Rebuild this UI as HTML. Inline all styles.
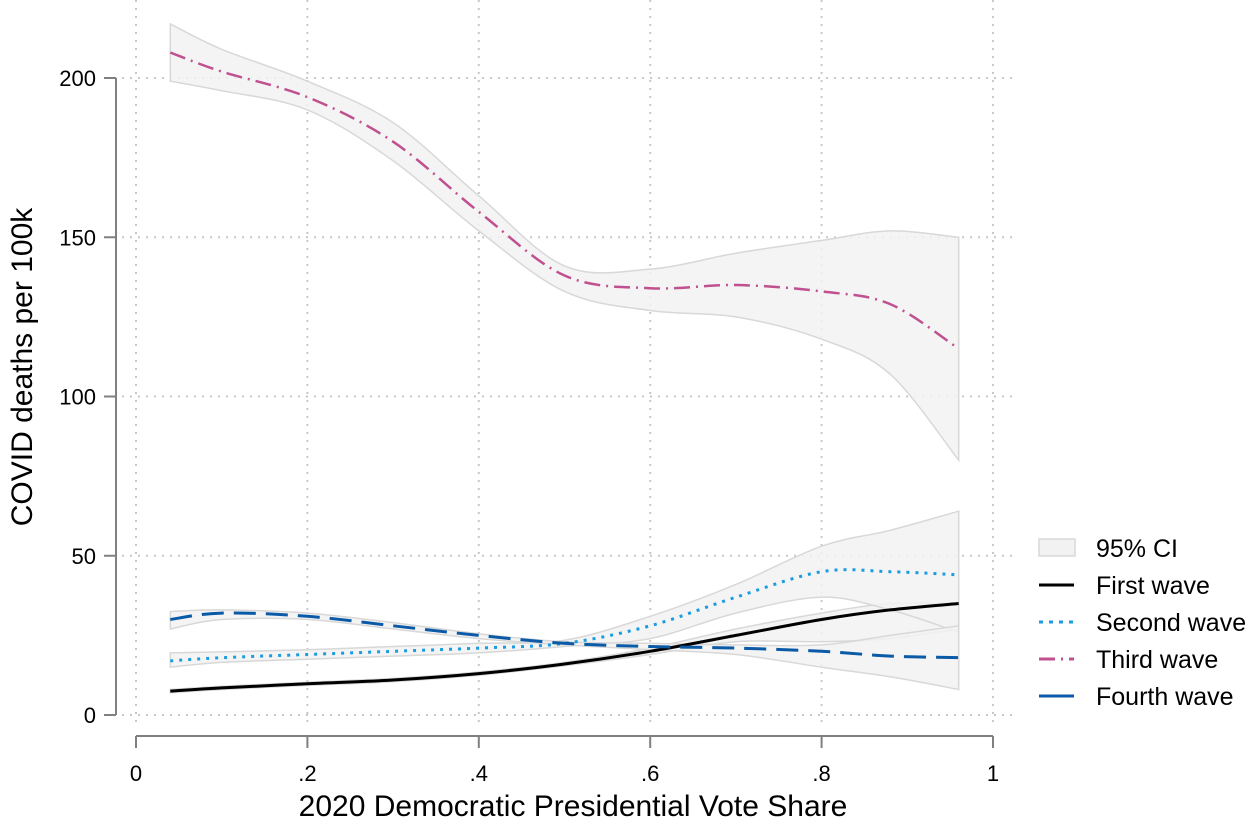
<!DOCTYPE html>
<html><head><meta charset="utf-8"><style>
body{margin:0;background:#fff;}
svg text{font-family:"Liberation Sans",Arial,sans-serif;fill:#000;}
</style></head><body>
<svg id="chart" width="1250" height="822" viewBox="0 0 1250 822" xmlns="http://www.w3.org/2000/svg">
<g id="grid"></g>
<g id="bands"></g>
<g id="lines"></g>
<g id="axes"></g>
<g id="legend"></g>
</svg>
<script>
const xTicks=[0,0.2,0.4,0.6,0.8,1];
const xTickLabels=["0",".2",".4",".6",".8","1"];
const yTicks=[0,50,100,150,200];
const xs=[0.04,0.1,0.2,0.3,0.4,0.5,0.6,0.7,0.8,0.88,0.96];
const firstWave=[7.5,8.5,9.8,11,13,16,20,25,30,33,35];
const firstLo=[7,8,9.3,10.5,12.5,15.5,19,23,23,24,27];
const firstHi=[8,9,10.3,11.5,13.5,16.5,21,27,32,35,35];
const secondWave=[17,18,19,20,21,22.5,28,37,45,45,44];
const secondLo=[15,16.5,17.5,18.5,19.5,21.5,24,32,37,33,26];
const secondHi=[19.5,19.8,20.5,21.5,22.5,23.5,31,41,53,58,64];
const thirdWave=[208,202,194,180,158,138,134,135,133,129,115];
const thirdLo=[199,196,190,174,152,133,127,125,118,107,80];
const thirdHi=[217,209,199,186,163,141,140,145,149,152,150];
const fourthWave=[30,32,31,28,25,22.5,21.5,21,20,18.5,18];
const fourthLo=[27,30,30,27,24,22,20.5,19,15,12,8];
const fourthHi=[32.5,33,32,29,25.5,23,22.5,22,22,25,28];
const legendLabels=["95% CI","First wave","Second wave","Third wave","Fourth wave"];

const X=v=>136+857*v, Y=v=>715-3.185*v;
const NS="http://www.w3.org/2000/svg";
function mk(tag,attrs,parent){const e=document.createElementNS(NS,tag);for(const k in attrs)e.setAttribute(k,attrs[k]);parent.appendChild(e);return e;}
const grid=document.getElementById('grid'),bands=document.getElementById('bands'),lines=document.getElementById('lines'),axes=document.getElementById('axes'),legend=document.getElementById('legend');
const gs={stroke:"#c8c8c8","stroke-width":2,"stroke-dasharray":"2 6"};
yTicks.forEach(t=>{const l=mk('line',Object.assign({x1:122,x2:1015,y1:Y(t),y2:Y(t)},gs),grid);

});
xTicks.forEach(t=>{const l=mk('line',Object.assign({x1:X(t),x2:X(t),y1:0,y2:728},gs),grid);

});
const f=n=>n.toFixed(1);
function seg(pts){let d="";for(let i=0;i<pts.length-1;i++){const p0=pts[i-1]||pts[i],p1=pts[i],p2=pts[i+1],p3=pts[i+2]||p2;
const c1x=p1[0]+(p2[0]-p0[0])/6,c1y=p1[1]+(p2[1]-p0[1])/6,c2x=p2[0]-(p3[0]-p1[0])/6,c2y=p2[1]-(p3[1]-p1[1])/6;
d+=" C"+f(c1x)+","+f(c1y)+" "+f(c2x)+","+f(c2y)+" "+f(p2[0])+","+f(p2[1]);}return d;}
const ser=[["first-wave",firstWave,firstLo,firstHi,{stroke:"#000","stroke-width":3}],
["second-wave",secondWave,secondLo,secondHi,{stroke:"#1a9de0","stroke-width":3,"stroke-dasharray":"3 6"}],
["third-wave",thirdWave,thirdLo,thirdHi,{stroke:"#c0508f","stroke-width":2.5,"stroke-dasharray":"16 6 2 6"}],
["fourth-wave",fourthWave,fourthLo,fourthHi,{stroke:"#0a5aa8","stroke-width":3,"stroke-dasharray":"22 10"}]];
ser.forEach(s=>{const up=xs.map((x,i)=>[X(x),Y(s[3][i])]);const lo=xs.map((x,i)=>[X(x),Y(s[2][i])]).reverse();
const d="M"+f(up[0][0])+","+f(up[0][1])+seg(up)+" L"+f(lo[0][0])+","+f(lo[0][1])+seg(lo)+" Z";
const p=mk('path',{d:d,fill:"#f2f2f2","fill-opacity":0.85,stroke:"#d8d8d8","stroke-width":1.5},bands);

});
ser.forEach(s=>{const pts=xs.map((x,i)=>[X(x),Y(s[1][i])]);
const p=mk('path',Object.assign({d:"M"+f(pts[0][0])+","+f(pts[0][1])+seg(pts),fill:"none"},s[4]),lines);

});
const ax={stroke:"#808080","stroke-width":2,fill:"none"};
mk('line',Object.assign({x1:116,x2:116,y1:Y(200),y2:Y(0)},ax),axes);
mk('line',Object.assign({x1:X(0),x2:X(1),y1:736,y2:736},ax),axes);
yTicks.forEach(t=>{mk('line',Object.assign({x1:104,x2:116,y1:Y(t),y2:Y(t)},ax),axes);
const tx=mk('text',{x:96,y:Y(t)+8,"text-anchor":"end","font-size":22},axes);tx.textContent=t;

});
xTicks.forEach((t,i)=>{mk('line',Object.assign({x1:X(t),x2:X(t),y1:736,y2:748},ax),axes);
const tx=mk('text',{x:X(t),y:781,"text-anchor":"middle","font-size":22},axes);tx.textContent=xTickLabels[i];

});
const xt=mk('text',{x:573,y:816,"text-anchor":"middle","font-size":30},axes);xt.textContent="2020 Democratic Presidential Vote Share";


const yt=mk('text',{x:32,y:367,"text-anchor":"middle","font-size":30,transform:"rotate(-90 32 367)"},axes);yt.textContent="COVID deaths per 100k";


const legStyles=[null,{stroke:"#000","stroke-width":3},{stroke:"#1a9de0","stroke-width":3,"stroke-dasharray":"4 6"},{stroke:"#c0508f","stroke-width":3,"stroke-dasharray":"16 6 2 6"},{stroke:"#0a5aa8","stroke-width":3}];
legendLabels.forEach((lab,i)=>{const y=548+i*37;
if(i===0){mk('rect',{x:1039,y:y-9,width:36,height:17,fill:"#f2f2f2",stroke:"#d8d8d8","stroke-width":1.5},legend);}
else{mk('line',Object.assign({x1:1039,x2:1074,y1:y,y2:y},legStyles[i]),legend);}
const tx=mk('text',{x:1096,y:y+9,"font-size":25},legend);tx.textContent=lab;

});
</script>
</body></html>
